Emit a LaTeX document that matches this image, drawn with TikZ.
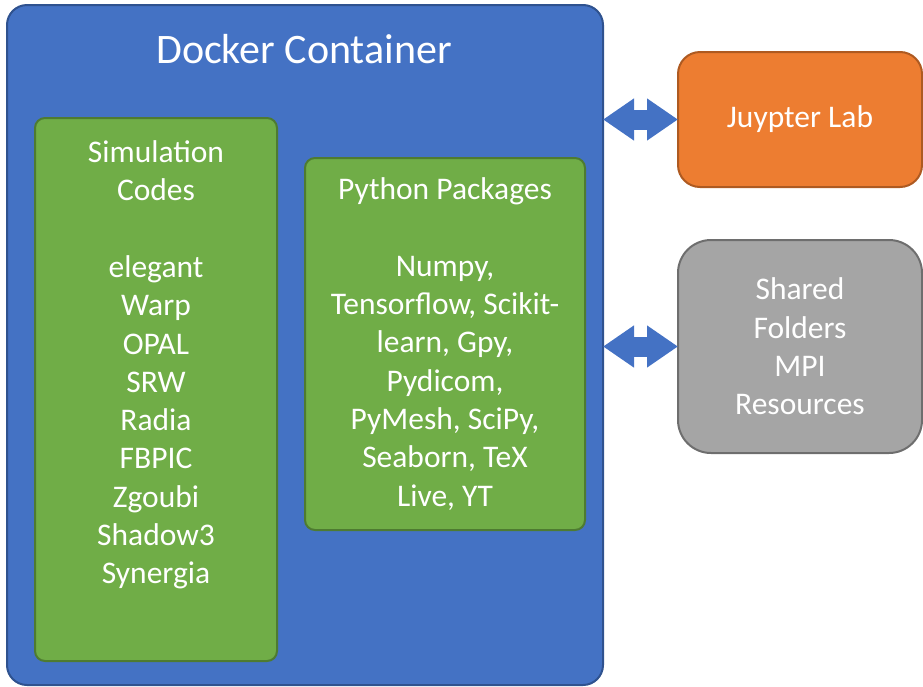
\documentclass[tikz,border=0pt]{standalone}
\usepackage{fontspec}
\setmainfont{Carlito}
\usetikzlibrary{arrows.meta}
\definecolor{dockfill}{HTML}{4472C4}
\definecolor{dockline}{HTML}{2F528F}
\definecolor{pkgfill}{HTML}{70AD47}
\definecolor{pkgline}{HTML}{4E7B31}
\definecolor{labfill}{HTML}{ED7D31}
\definecolor{labline}{HTML}{AE5A21}
\definecolor{hostfill}{HTML}{A5A5A5}
\definecolor{hostline}{HTML}{6E6E6E}
\tikzset{
  box/.style={draw,line width=2pt,inner sep=0pt,outer sep=0pt,text=white,align=center,
    font=\fontsize{31.5}{38.3}\selectfont},
  dockbox/.style={box,fill=dockfill,draw=dockline,rounded corners=20pt},
  pkgbox/.style={box,fill=pkgfill,draw=pkgline,rounded corners=10pt},
  labbox/.style={box,fill=labfill,draw=labline,rounded corners=22pt},
  hostbox/.style={box,fill=hostfill,draw=hostline,rounded corners=33pt},
  boxtext/.style={inner sep=0pt,text=white,align=center,font=\fontsize{31.5}{38.3}\selectfont},
  link/.style={dockfill,line width=20pt,
    {Triangle[width=40pt,length=31pt]}-{Triangle[width=40pt,length=31pt]}}
}
\begin{document}
\begin{tikzpicture}[x=1pt,y=-1pt]
	\useasboundingbox (0,0) rectangle (923,686);
	\def\xL{800};
	\node[dockbox,minimum width=596pt,minimum height=680pt] (docker) at (305,345) {};
	\node[boxtext,font=\fontsize{42}{46}\selectfont] (title) at (304,49) {Docker Container};
	\node[pkgbox,minimum width=242pt,minimum height=543pt] (sim) at (156,389.5) {};
	\node[boxtext] (simtext) at (156,365) {Simulation\\Codes\\[38.3pt]elegant\\Warp\\OPAL\\SRW\\Radia\\FBPIC\\Zgoubi\\Shadow3\\Synergia};
	\node[pkgbox,minimum width=280pt,minimum height=372pt] (py) at (445,344) {Python Packages\\[38.3pt]Numpy,\\Tensorflow, Scikit-\\learn, Gpy,\\Pydicom,\\PyMesh, SciPy,\\Seaborn, TeX\\Live, YT};
	\node[labbox,minimum width=244pt,minimum height=135pt] (jup) at (\xL,119.5) {Juypter Lab};
	\node[hostbox,minimum width=244pt,minimum height=213pt] (host) at (\xL,346.5) {Shared\\Folders\\MPI\\Resources};
	\draw[link] (docker.east |- jup.west) -- (jup.west);
	\draw[link] (docker.east |- host.west) -- (host.west);
\end{tikzpicture}
\end{document}
